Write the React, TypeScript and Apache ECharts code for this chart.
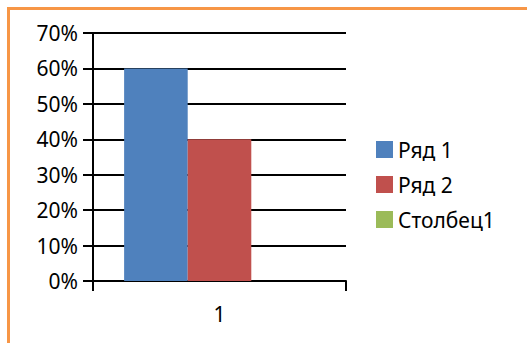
import React, { useEffect, useRef } from "react";
import * as echarts from "echarts";

const categories = ["1"];
const seriesNames = ["Ряд 1", "Ряд 2", "Столбец1"];
const series1 = [60];
const series2 = [40];
const series3: (number | null)[] = [null];
const yMax = 70;
const yInterval = 10;

const colors = ["#4F81BD", "#C0504D", "#9BBB59"];
const FONT = "Noto Sans";

export default function App() {
  const ref = useRef<HTMLDivElement>(null);
  useEffect(() => {
    if (!ref.current) return;
    const chart = echarts.init(ref.current, null, { renderer: "svg" });
    chart.setOption({
      animation: false,
      backgroundColor: "#ffffff",
      color: colors,
      textStyle: { fontFamily: FONT },
      graphic: [
        { type: "rect", shape: { x: 7, y: 7, width: 520, height: 3 }, style: { fill: "#F79646" }, z: 100 },
        { type: "rect", shape: { x: 7, y: 7, width: 3, height: 336 }, style: { fill: "#F79646" }, z: 100 },
      ],
      grid: { left: 93, right: 181, top: 33, bottom: 62, containLabel: false },
      legend: {
        orient: "vertical",
        left: 376,
        top: 139,
        padding: 0,
        itemWidth: 17,
        itemHeight: 17,
        itemGap: 14,
        icon: "rect",
        data: seriesNames,
        textStyle: { fontFamily: FONT, fontSize: 21, lineHeight: 17, color: "#000" },
      },
      xAxis: {
        type: "category",
        data: categories,
        boundaryGap: true,
        axisLine: { lineStyle: { color: "#000", width: 2 } },
        axisTick: { show: true, length: 10, lineStyle: { color: "#000", width: 2 } },
        axisLabel: { fontFamily: FONT, fontSize: 21, color: "#000", margin: 22 },
      },
      yAxis: {
        type: "value",
        min: 0,
        max: yMax,
        interval: yInterval,
        axisLine: { show: true, lineStyle: { color: "#000", width: 2 } },
        axisTick: { show: true, length: 10, lineStyle: { color: "#000", width: 2 } },
        splitLine: { show: true, lineStyle: { color: "#000", width: 2 } },
        axisLabel: { fontFamily: FONT, fontSize: 21, color: "#000", margin: 15, formatter: "{value}%" },
      },
      series: [
        { name: seriesNames[0], type: "bar", data: series1, barGap: "0%", barCategoryGap: "24.6%" },
        { name: seriesNames[1], type: "bar", data: series2, barGap: "0%", barCategoryGap: "24.6%" },
        { name: seriesNames[2], type: "bar", data: series3, barGap: "0%", barCategoryGap: "24.6%" },
      ],
    });
    return () => chart.dispose();
  }, []);
  return (
    <div
      ref={ref}
      style={{ position: "fixed", left: 0, top: 0, width: 527, height: 343 }}
    />
  );
}
